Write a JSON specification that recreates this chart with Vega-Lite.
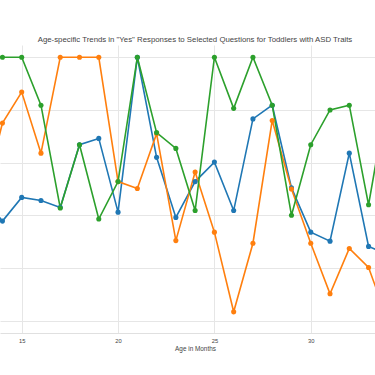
{
  "$schema": "https://vega.github.io/schema/vega-lite/v6.json",
  "width": 375,
  "height": 288,
  "autosize": {"type": "none"},
  "padding": {"left": 0, "top": 45, "right": 0, "bottom": 42},
  "background": "white",
  "title": {
    "text": "Age-specific Trends in \"Yes\" Responses to Selected Questions for Toddlers with ASD Traits",
    "fontSize": 7.8,
    "font": "Liberation Sans",
    "fontWeight": "normal",
    "color": "#444444",
    "anchor": "middle",
    "dx": 7.5,
    "offset": 1.5
  },
  "data": {
    "values": [
      {"m":13,"s":"A1","v":73.4},{"m":14,"s":"A1","v":68.9},{"m":15,"s":"A1","v":73.4},{"m":16,"s":"A1","v":72.8},{"m":17,"s":"A1","v":71.5},{"m":18,"s":"A1","v":83.4},{"m":19,"s":"A1","v":84.6},{"m":20,"s":"A1","v":70.6},{"m":21,"s":"A1","v":100},{"m":22,"s":"A1","v":81.0},{"m":23,"s":"A1","v":69.6},{"m":24,"s":"A1","v":76.4},{"m":25,"s":"A1","v":80.1},{"m":26,"s":"A1","v":70.9},{"m":27,"s":"A1","v":88.3},{"m":28,"s":"A1","v":90.9},{"m":29,"s":"A1","v":75.2},{"m":30,"s":"A1","v":66.8},{"m":31,"s":"A1","v":65.1},{"m":32,"s":"A1","v":81.8},{"m":33,"s":"A1","v":64.1},{"m":34,"s":"A1","v":62.6},
      {"m":13,"s":"A2","v":72.8},{"m":14,"s":"A2","v":87.5},{"m":15,"s":"A2","v":93.4},{"m":16,"s":"A2","v":81.8},{"m":17,"s":"A2","v":100},{"m":18,"s":"A2","v":100},{"m":19,"s":"A2","v":100},{"m":20,"s":"A2","v":76.4},{"m":21,"s":"A2","v":75.1},{"m":22,"s":"A2","v":85.5},{"m":23,"s":"A2","v":65.2},{"m":24,"s":"A2","v":78.2},{"m":25,"s":"A2","v":66.8},{"m":26,"s":"A2","v":51.7},{"m":27,"s":"A2","v":64.7},{"m":28,"s":"A2","v":88.0},{"m":29,"s":"A2","v":75.0},{"m":30,"s":"A2","v":64.7},{"m":31,"s":"A2","v":55.1},{"m":32,"s":"A2","v":63.7},{"m":33,"s":"A2","v":60.1},{"m":34,"s":"A2","v":50},
      {"m":13,"s":"A3","v":100},{"m":14,"s":"A3","v":100},{"m":15,"s":"A3","v":100},{"m":16,"s":"A3","v":90.9},{"m":17,"s":"A3","v":71.4},{"m":18,"s":"A3","v":83.4},{"m":19,"s":"A3","v":69.3},{"m":20,"s":"A3","v":76.4},{"m":21,"s":"A3","v":100},{"m":22,"s":"A3","v":85.7},{"m":23,"s":"A3","v":82.7},{"m":24,"s":"A3","v":70.9},{"m":25,"s":"A3","v":100},{"m":26,"s":"A3","v":90.3},{"m":27,"s":"A3","v":100},{"m":28,"s":"A3","v":90.9},{"m":29,"s":"A3","v":70.0},{"m":30,"s":"A3","v":83.4},{"m":31,"s":"A3","v":90.0},{"m":32,"s":"A3","v":90.9},{"m":33,"s":"A3","v":72.0},{"m":34,"s":"A3","v":92.9}
    ]
  },
  "encoding": {
    "x": {
      "field": "m", "type": "quantitative",
      "scale": {"domain": [13.874, 33.334], "nice": false, "zero": false},
      "axis": {
        "title": "Age in Months",
        "values": [15, 20, 25, 30],
        "ticks": false,
        "labelFontSize": 5.8,
        "labelColor": "#444444",
        "labelPadding": 4.5,
        "titleFontSize": 6.4,
        "titleFontWeight": "normal",
        "titleColor": "#444444",
        "titlePadding": 2.5,
        "titleX": 195,
        "domainColor": "#e0e0e0",
        "gridColor": "#e6e6e6",
        "gridWidth": 1
      }
    },
    "y": {
      "field": "v", "type": "quantitative",
      "scale": {"domain": [47.66, 102.33], "nice": false, "zero": false},
      "axis": {
        "title": null,
        "values": [50, 60, 70, 80, 90, 100],
        "labels": false,
        "ticks": false,
        "domain": false,
        "gridColor": "#e6e6e6",
        "gridWidth": 1
      }
    },
    "color": {
      "field": "s", "type": "nominal",
      "scale": {"domain": ["A1", "A2", "A3"], "range": ["#1f77b4", "#ff7f0e", "#2ca02c"]},
      "legend": null
    }
  },
  "layer": [
    {"mark": {"type": "line", "strokeWidth": 1.6, "clip": true}},
    {"mark": {"type": "point", "filled": true, "size": 26, "opacity": 1, "clip": true}}
  ],
  "config": {
    "view": {"stroke": null},
    "font": "Liberation Sans"
  }
}
